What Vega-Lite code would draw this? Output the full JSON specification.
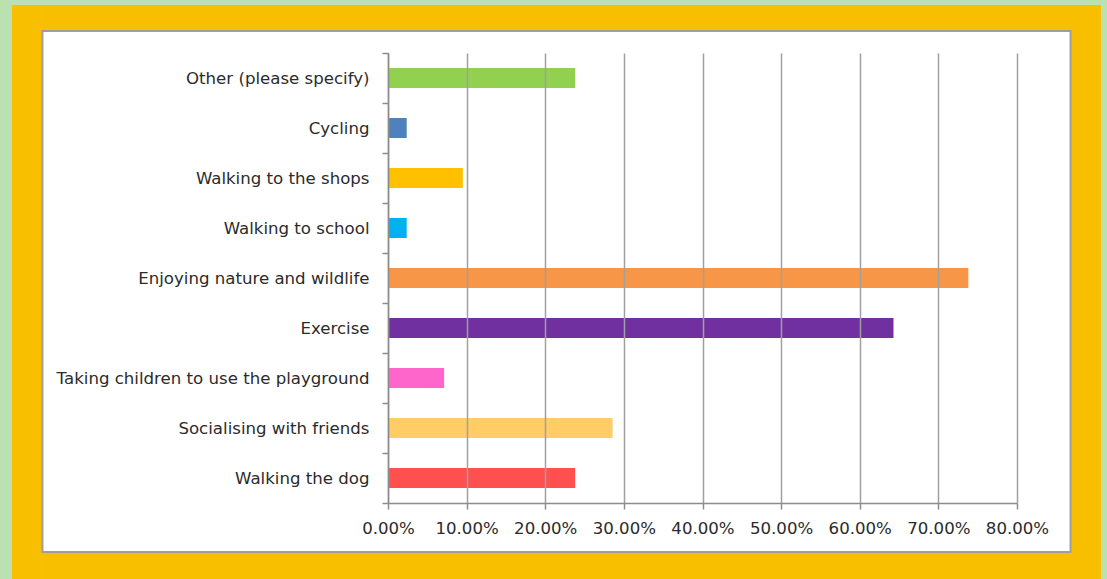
{
  "$schema": "https://vega.github.io/schema/vega-lite/v6.json",
  "width": 629,
  "height": 450,
  "autosize": {"type": "none"},
  "padding": {"left": 388, "top": 53, "right": 90, "bottom": 76},
  "background": "#ffffff",
  "config": {
    "view": {"stroke": null},
    "axis": {
      "labelFont": "DejaVu Sans",
      "labelFontSize": 16.6,
      "labelColor": "#2b2b2b",
      "domainColor": "#8c8c8c",
      "domainWidth": 1.5,
      "tickColor": "#8c8c8c",
      "tickWidth": 1.5,
      "gridColor": "#a0a0a0",
      "gridWidth": 1.5
    }
  },
  "layer": [
    {
      "data": {"values": [{"k": 1}]},
      "encoding": {
        "y": {"type": "quantitative", "scale": {"domain": [0, 450], "nice": false, "zero": false}, "axis": null}
      },
      "layer": [
        {
          "mark": {"type": "rect", "fill": "#b9e1b1", "clip": false},
          "encoding": {"x": {"datum": -0.6, "type": "quantitative"}, "x2": {"datum": -0.4782}, "y": {"datum": -97, "type": "quantitative"}, "y2": {"datum": 523}}
        },
        {
          "mark": {"type": "rect", "fill": "#b9e1b1", "clip": false},
          "encoding": {"x": {"datum": -0.6, "type": "quantitative"}, "x2": {"datum": 1.0}, "y": {"datum": 498, "type": "quantitative"}, "y2": {"datum": 523}}
        },
        {
          "mark": {"type": "rect", "fill": "#b9e1b1", "clip": false},
          "encoding": {"x": {"datum": 0.9068, "type": "quantitative"}, "x2": {"datum": 1.0}, "y": {"datum": -97, "type": "quantitative"}, "y2": {"datum": 523}}
        },
        {
          "mark": {"type": "rect", "fill": "#f8bf00", "clip": false},
          "encoding": {"x": {"datum": -0.4782, "type": "quantitative"}, "x2": {"datum": -0.4401}, "y": {"datum": -97, "type": "quantitative"}, "y2": {"datum": 498}}
        },
        {
          "mark": {"type": "rect", "fill": "#f8bf00", "clip": false},
          "encoding": {"x": {"datum": 0.8687, "type": "quantitative"}, "x2": {"datum": 0.9068}, "y": {"datum": -97, "type": "quantitative"}, "y2": {"datum": 498}}
        },
        {
          "mark": {"type": "rect", "fill": "#f8bf00", "clip": false},
          "encoding": {"x": {"datum": -0.4401, "type": "quantitative"}, "x2": {"datum": 0.8687}, "y": {"datum": 473, "type": "quantitative"}, "y2": {"datum": 498}}
        },
        {
          "mark": {"type": "rect", "fill": "#f8bf00", "clip": false},
          "encoding": {"x": {"datum": -0.4401, "type": "quantitative"}, "x2": {"datum": 0.8687}, "y": {"datum": -97, "type": "quantitative"}, "y2": {"datum": -50}}
        },
        {
          "mark": {"type": "rect", "filled": false, "stroke": "#9e9e9e", "strokeWidth": 2, "clip": false},
          "encoding": {"x": {"datum": -0.4395, "type": "quantitative"}, "x2": {"datum": 0.8681}, "y": {"datum": -49, "type": "quantitative"}, "y2": {"datum": 472}}
        }
      ]
    },
    {
      "data": {
        "values": [
          {"activity": "Other (please specify)", "pct": 0.2381},
          {"activity": "Cycling", "pct": 0.0238},
          {"activity": "Walking to the shops", "pct": 0.0952},
          {"activity": "Walking to school", "pct": 0.0238},
          {"activity": "Enjoying nature and wildlife", "pct": 0.7381},
          {"activity": "Exercise", "pct": 0.6429},
          {"activity": "Taking children to use the playground", "pct": 0.0714},
          {"activity": "Socialising with friends", "pct": 0.2857},
          {"activity": "Walking the dog", "pct": 0.2381}
        ]
      },
      "mark": {"type": "bar", "height": {"band": 0.4}},
      "encoding": {
        "y": {
          "field": "activity",
          "type": "nominal",
          "sort": ["Other (please specify)", "Cycling", "Walking to the shops", "Walking to school", "Enjoying nature and wildlife", "Exercise", "Taking children to use the playground", "Socialising with friends", "Walking the dog"],
          "scale": {"paddingInner": 0, "paddingOuter": 0},
          "axis": {"title": null, "tickBand": "extent", "tickSize": 6, "labelPadding": 13, "labelLimit": 0, "zindex": 1}
        },
        "x": {
          "field": "pct",
          "type": "quantitative",
          "scale": {"domain": [0, 0.8], "nice": false, "zero": true},
          "axis": {"title": null, "values": [0, 0.1, 0.2, 0.3, 0.4, 0.5, 0.6, 0.7, 0.8], "format": ".2%", "tickSize": 6, "labelPadding": 11, "labelOverlap": false, "labelFlush": false, "grid": true, "zindex": 1}
        },
        "color": {
          "field": "activity",
          "type": "nominal",
          "scale": {
            "domain": ["Other (please specify)", "Cycling", "Walking to the shops", "Walking to school", "Enjoying nature and wildlife", "Exercise", "Taking children to use the playground", "Socialising with friends", "Walking the dog"],
            "range": ["#92d050", "#4f81bd", "#ffc000", "#00b0f0", "#f79646", "#7030a0", "#ff66cc", "#ffcc66", "#ff5050"]
          },
          "legend": null
        }
      }
    }
  ],
  "resolve": {"scale": {"y": "independent"}}
}
